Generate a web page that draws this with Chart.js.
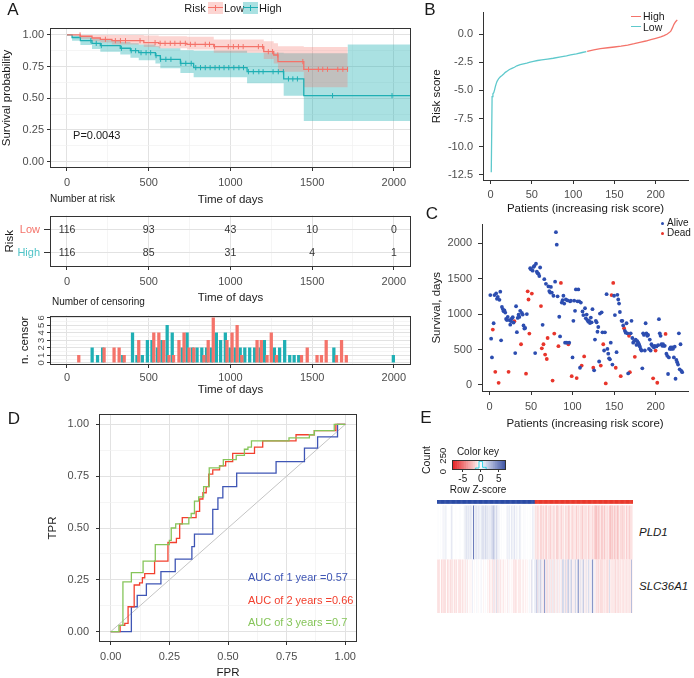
<!DOCTYPE html>
<html>
<head>
<meta charset="utf-8">
<title>Risk model figure</title>
<script src="https://cdn.jsdelivr.net/npm/chart.js@4.4.1/dist/chart.umd.min.js"></script>
<style>
html, body { margin: 0; padding: 0; background: #fff; overflow: hidden; }
#fig { position: relative; width: 694px; height: 678px; font-family: "Liberation Sans", Arial, Helvetica, sans-serif; color: #1a1a1a; }
#fig canvas { position: absolute; }
.t { position: absolute; white-space: nowrap; line-height: 1; }
.c { transform: translate(-50%, -50%); }
.l { transform: translateY(-50%); }
.r90 { transform: translate(-50%, -50%) rotate(-90deg); }
.tag { font-size: 17px; }
.box { position: absolute; }
</style>
</head>
<body>
<div id="fig">
  <canvas id="km" width="420" height="210" style="left:0px;top:0px"></canvas>
  <canvas id="risk" width="420" height="100" style="left:0px;top:205px"></canvas>
  <canvas id="cens" width="420" height="95" style="left:0px;top:305px"></canvas>
  <canvas id="score" width="314" height="218" style="left:380px;top:0px"></canvas>
  <canvas id="surv" width="314" height="222" style="left:380px;top:212px"></canvas>
  <canvas id="roc" width="370" height="282" style="left:0px;top:400px"></canvas>
  <canvas id="ckey" width="80" height="30" style="left:440px;top:455px"></canvas>
  <canvas id="heat" width="196" height="113" style="left:437px;top:500px"></canvas>

  <div class="t c tag" style="left:13px;top:9px">A</div>
  <div class="t c tag" style="left:430px;top:9px">B</div>
  <div class="t c tag" style="left:432px;top:213px">C</div>
  <div class="t c tag" style="left:14px;top:418px">D</div>
  <div class="t c tag" style="left:426px;top:417px">E</div>

  <!-- panel A legend -->
  <div class="t c" style="left:195px;top:8px;font-size:11px">Risk</div>
  <div class="box" style="left:208px;top:2px;width:15px;height:12px;background:rgba(244,115,106,0.3)">
    <div class="box" style="left:0px;top:5px;width:15px;height:1.4px;background:#F4736A"></div>
    <div class="box" style="left:7px;top:3px;width:1px;height:6px;background:#F4736A"></div>
  </div>
  <div class="t l" style="left:224px;top:8px;font-size:11px">Low</div>
  <div class="box" style="left:243px;top:2px;width:15px;height:12px;background:rgba(31,175,180,0.38)">
    <div class="box" style="left:0px;top:5px;width:15px;height:1.4px;background:#1FAFB4"></div>
    <div class="box" style="left:7px;top:3px;width:1px;height:6px;background:#1FAFB4"></div>
  </div>
  <div class="t l" style="left:259px;top:8px;font-size:11px">High</div>
  <div class="t l" style="left:50px;top:199px;font-size:10px">Number at risk</div>
  <div class="t l" style="left:52px;top:302px;font-size:10px">Number of censoring</div>

  <!-- panel B legend -->
  <div class="box" style="left:631px;top:15.5px;width:10px;height:1.3px;background:#F4736A"></div>
  <div class="t l" style="left:643px;top:16px;font-size:10.5px">High</div>
  <div class="box" style="left:631px;top:26px;width:10px;height:1.3px;background:#5FC9CC"></div>
  <div class="t l" style="left:643px;top:26.5px;font-size:10.5px">Low</div>

  <!-- panel C legend -->
  <div class="box" style="left:660.5px;top:221.5px;width:3px;height:3px;border-radius:50%;background:#2C4DB0"></div>
  <div class="t l" style="left:667px;top:223px;font-size:10px">Alive</div>
  <div class="box" style="left:660.5px;top:231.5px;width:3px;height:3px;border-radius:50%;background:#E8352B"></div>
  <div class="t l" style="left:667px;top:233px;font-size:10px">Dead</div>

  <!-- panel E texts -->
  <div class="t c" style="left:478px;top:452px;font-size:10px">Color key</div>
  <div class="t c" style="left:478px;top:490px;font-size:10px">Row Z-score</div>
  <div class="t r90" style="left:426px;top:460px;font-size:10.5px">Count</div>
  <div class="t r90" style="left:443px;top:461px;font-size:9.5px">0&nbsp;&nbsp;250</div>
  <div class="t l" style="left:639px;top:533px;font-size:11.5px;font-style:italic">PLD1</div>
  <div class="t l" style="left:639px;top:587px;font-size:11.5px;font-style:italic">SLC36A1</div>
</div>

<script>
// ---------------- values ----------------
const groups = ['Low', 'High'];

// A: Kaplan-Meier steps (days, survival) and 95% bands
const kmLowTime  = [0, 82, 153, 204, 275, 470, 561, 734, 898, 1204, 1265, 1291, 1449, 1718];
const kmLowSurv  = [1, 0.99, 0.976, 0.966, 0.955, 0.94, 0.934, 0.926, 0.908, 0.868, 0.842, 0.79, 0.729, 0.729];
const kmLowUpper = [1, 1, 1, 1, 1, 0.995, 0.99, 0.985, 0.965, 0.95, 0.935, 0.91, 0.905, 0.905];
const kmLowLower = [1, 0.97, 0.95, 0.94, 0.925, 0.905, 0.895, 0.885, 0.86, 0.81, 0.775, 0.71, 0.588, 0.588];

const kmHighTime  = [0, 31, 82, 153, 204, 326, 388, 439, 541, 571, 694, 775, 1102, 1326, 1449, 1718, 2105];
const kmHighSurv  = [1, 0.98, 0.955, 0.934, 0.916, 0.895, 0.876, 0.86, 0.837, 0.808, 0.776, 0.742, 0.71, 0.653, 0.521, 0.521, 0.521];
const kmHighUpper = [1, 0.995, 0.985, 0.97, 0.96, 0.945, 0.935, 0.925, 0.91, 0.895, 0.88, 0.875, 0.86, 0.855, 0.855, 0.925, 0.925];
const kmHighLower = [1, 0.955, 0.92, 0.89, 0.868, 0.845, 0.82, 0.8, 0.775, 0.737, 0.7, 0.666, 0.618, 0.52, 0.32, 0.32, 0.32];

const pValueText = 'P=0.0043';

// number at risk table
const riskTimes = [0, 500, 1000, 1500, 2000];
const riskLow   = [116, 93, 43, 10, 0];
const riskHigh  = [116, 85, 31, 4, 1];

// censoring counts
const censLowTime   = [80, 235, 296, 327, 358, 447, 539, 570, 600, 632, 660, 693, 724, 755, 784, 846, 872, 903, 987, 1018,
                       1049, 1078, 1171, 1197, 1232, 1258, 1290, 1443, 1478, 1538, 1565, 1594, 1657, 1688, 1717];
const censLowCount  = [1, 2, 2, 2, 1, 3, 4, 4, 3, 1, 1, 3, 4, 2, 2, 1, 3, 6, 3, 4,
                       5, 1, 3, 3, 1, 4, 1, 1, 2, 1, 1, 3, 1, 3, 1];
const censHighTime  = [146, 179, 210, 333, 393, 420, 453, 484, 512, 545, 573, 605, 636, 697, 727, 760, 788, 817, 846, 876,
                       906, 932, 961, 990, 1021, 1052, 1080, 1110, 1140, 1174, 1200, 1261, 1293, 1324, 1355, 1382, 1410, 1625, 1989];
const censHighCount = [2, 1, 2, 1, 4, 1, 1, 3, 3, 2, 3, 5, 4, 2, 4, 2, 2, 2, 2, 2,
                       4, 3, 4, 2, 2, 2, 2, 2, 2, 2, 3, 2, 2, 3, 1, 1, 1, 2, 1];

// B: sorted risk score
const scoreLowIdx  = [1, 2, 3, 4, 5, 6, 7, 8, 10, 12, 14, 16, 18, 20, 23, 26, 29, 32, 36, 40, 44, 48, 52, 57, 62, 69, 76, 85, 92, 97, 104, 111, 116];
const scoreLow     = [-12.27, -5.55, -5.3, -5.2, -4.95, -4.65, -4.4, -4.2, -3.95, -3.8, -3.68, -3.55, -3.4, -3.3, -3.15, -3.05, -2.95,
                      -2.82, -2.72, -2.65, -2.58, -2.5, -2.43, -2.35, -2.3, -2.22, -2.15, -2.03, -1.94, -1.86, -1.76, -1.64, -1.56];
const scoreHighIdx = [117, 125, 133, 142, 150, 158, 166, 174, 182, 188, 194, 200, 206, 210, 214, 218, 220, 222, 224, 226];
const scoreHigh    = [-1.53, -1.4, -1.29, -1.22, -1.15, -1.08, -0.98, -0.86, -0.72, -0.62, -0.5, -0.38, -0.26, -0.14, 0, 0.23, 0.52, 0.86, 1.09, 1.26];

// C: survival days per patient (ordered by risk score) and status (1 = dead)
const survDays = [
  1267, 653, 389, 781, 870, 1267, 185, 1290, 1215, 1240,
  30, 1200, 1316, 630, 1100, 1070, 1040, 1050, 1020, 930,
  915, 960, 185, 915, 850, 900, 940, 955, 880, 900,
  450, 1110, 745, 945, 990, 960, 1046, 574, 1015, 993,
  839, 795, 803, 159, 1000, 1320, 1205, 724, 1647, 1629,
  1289, 1611, 1664, 1678, 450, 1709, 1598, 1576, 1567, 1536,
  1656, 1113, 517, 848, 574, 1492, 428, 1426, 366, 662,
  1390, 1324, 1302, 1382, 1302, 62, 1258, 724, 1457, 2154,
  1978, 1250, 547, 962, 684, 1439, 1161, 1196, 1258, 1148,
  596, 1205, 596, 1192, 574, 596, 1179, 1188, 124, 389,
  905, 1188, 1046, 1347, 97, 1179, 1347, 1179, 243, 1161,
  274, 1037, 985, 402, 1082, 940, 993, 914, 892, 905,
  874, 950, 883, 1068, 243, 207, 640, 905, 883, 750,
  817, 331, 1007, 274, 1024, 742, 574, 486, 742, 22,
  1280, 508, 441, 375, 362, 596, 1267, 287, 1439, 1258,
  985, 243, 463, 1271, 1205, 1148, 1029, 124, 905, 905,
  839, 800, 764, 737, 870, 728, 163, 693, 181, 728,
  905, 662, 596, 618, 397, 640, 565, 618, 596, 574,
  543, 508, 486, 234, 728, 706, 486, 870, 728, 693,
  706, 508, 640, 486, 574, 552, 93, 530, 552, 485,
  543, 31, 561, 927, 728, 693, 574, 552, 574, 552,
  552, 720, 441, 411, 155, 389, 508, 530, 508, 530,
  510, 389, 540, 88, 353, 322, 287, 728, 221, 574,
  199, 180
];
const vitalStatus = [
  0, 0, 0, 1, 0, 0, 1, 0, 0, 0,
  1, 0, 0, 0, 0, 0, 0, 0, 0, 0,
  0, 0, 1, 0, 0, 0, 0, 0, 0, 1,
  0, 0, 0, 0, 0, 0, 0, 1, 0, 0,
  0, 0, 0, 1, 0, 1, 1, 1, 0, 0,
  1, 0, 0, 0, 0, 0, 0, 0, 0, 0,
  0, 1, 1, 0, 1, 0, 1, 0, 1, 1,
  0, 0, 0, 0, 0, 1, 0, 1, 0, 0,
  0, 0, 1, 0, 0, 1, 0, 0, 0, 0,
  0, 0, 0, 0, 1, 0, 0, 0, 1, 0,
  0, 0, 0, 0, 1, 0, 0, 0, 0, 0,
  1, 0, 0, 1, 0, 0, 0, 0, 0, 0,
  0, 0, 0, 0, 1, 0, 0, 0, 0, 0,
  0, 0, 0, 1, 0, 0, 1, 0, 0, 1,
  0, 0, 0, 0, 0, 0, 1, 0, 1, 0,
  0, 1, 0, 0, 0, 0, 0, 1, 0, 0,
  0, 1, 0, 0, 0, 0, 0, 1, 1, 0,
  0, 0, 0, 0, 1, 0, 0, 0, 0, 0,
  0, 0, 0, 0, 0, 0, 0, 0, 0, 0,
  0, 0, 0, 0, 0, 0, 1, 0, 0, 1,
  0, 1, 0, 0, 0, 0, 0, 0, 0, 0,
  0, 1, 0, 0, 0, 0, 0, 0, 0, 0,
  0, 0, 0, 0, 0, 0, 0, 0, 0, 0,
  0, 0
];

// D: ROC curves (FPR, TPR corners)
const roc1Fpr = [0, 0.088, 0.113, 0.152, 0.214, 0.275, 0.346, 0.357, 0.435, 0.457, 0.478, 0.537, 0.705, 0.826, 0.882, 0.967, 1];
const roc1Tpr = [0, 0.12, 0.175, 0.23, 0.29, 0.35, 0.41, 0.47, 0.59, 0.645, 0.7, 0.765, 0.82, 0.885, 0.94, 1, 1];
const roc2Fpr = [0, 0.04, 0.06, 0.074, 0.1, 0.123, 0.135, 0.145, 0.187, 0.244, 0.28, 0.294, 0.305, 0.364, 0.379, 0.393, 0.407, 0.418,
                 0.435, 0.464, 0.49, 0.52, 0.613, 0.648, 0.79, 0.868, 0.96, 1];
const roc2Tpr = [0, 0.03, 0.04, 0.12, 0.225, 0.235, 0.26, 0.28, 0.34, 0.43, 0.45, 0.52, 0.55, 0.58, 0.64, 0.67, 0.7, 0.76,
                 0.78, 0.8, 0.82, 0.86, 0.89, 0.92, 0.95, 0.97, 1, 1];
const roc3Fpr = [0, 0.035, 0.052, 0.088, 0.138, 0.19, 0.25, 0.258, 0.277, 0.333, 0.343, 0.357, 0.375, 0.396, 0.42, 0.464, 0.48,
                 0.535, 0.57, 0.585, 0.6, 0.76, 0.847, 0.868, 0.953, 1];
const roc3Tpr = [0, 0.03, 0.24, 0.285, 0.34, 0.42, 0.44, 0.5, 0.52, 0.55, 0.57, 0.63, 0.65, 0.7, 0.79, 0.8, 0.83,
                 0.85, 0.88, 0.89, 0.92, 0.935, 0.95, 0.97, 1, 1];
const aucText = ['AUC of 1 year =0.57', 'AUC of 2 years =0.66', 'AUC of 3 years =0.7'];

// E: heatmap row z-scores (232 samples, low-risk first)
const pld1Z = [
  0, 0.2, 0, 0, 0.1, 0, 0, 0.8, 0, 0.5,
  0.6, 0.4, 0, 0, 0, 0, 0.2, 1.0, 0.5, 0,
  0, 0, 0.1, 0, 0, 0, 0, 0.2, 0, 0,
  0, 0.1, 0.3, 1.0, 0.5, 1.3, 0.6, 1.0, 0.3, 1.3,
  0.6, 0.8, 0.2, 6.0, 0.5, 1.0, 0.6, 1.3, 0.3, 1.0,
  0.6, 0.5, 0.2, 1.6, 1.0, 1.3, 0.6, 1.6, 1.0, 0.6,
  1.3, 0.5, 0.8, 0.6, 1.3, 1.0, 2.0, 2.4, 1.3, 0.6,
  1.6, 1.0, 0.3, 0.6, 0.3, 0, 0.2, 0, 0, 0.1,
  0, 0, 0.3, 0.8, 0, 1.0, 0.5, 0, 1.0, 0.6,
  0, 1.3, 0.8, 0, 0.6, 0.3, 0, 0.5, 1.0, 0.3,
  0, 0, 0.2, 0, 0.3, 0, 0, 0.1, 0, 0,
  0.2, 0, 0, 0.8, 0.5, 0.3,
  -0.8, -1.2, -0.5, -1.5, -1.0, -0.3, -1.2, -2.0, -0.8, -1.0,
  -1.5, -0.6, -1.0, -2.2, -0.8, -0.4, -1.3, -1.0, -1.8, -0.7,
  -1.1, -0.5, -1.6, -1.0, -0.3, -1.4, -2.0, -0.9, -1.2, -0.6,
  -1.0, -1.8, -0.5, -1.2, -0.8, -0.2, -1.5, -1.0, -0.7, -1.3,
  -2.1, -0.9, -0.4, -1.1, -1.6, -0.8, -1.2, -0.5, -1.0, -1.9,
  -0.7, -1.3, -0.9, -0.3, -1.5, -1.1, -2.0, -0.8, -1.2, -0.6,
  -1.4, -1.0, -0.5, -1.7, -0.9, -1.2, -0.4, -1.0, -1.5, -0.8,
  -1.3, -2.2, -1.8, -2.5, -1.0, -2.0, -1.6, -0.6, -1.2, -2.3,
  -1.5, -0.9, -2.0, -1.1, -0.5, -1.4, -1.0, -0.7, -1.8, -2.4,
  -1.2, -2.0, -1.6, -0.8, -2.2, -1.3, -0.9, -1.7, -2.5, -1.1,
  -0.6, -1.4, -1.0, -2.0, -0.8, -1.5, -1.2, -0.5, -1.8, -1.0,
  -0.7, -1.3, -2.0, -0.9, -1.1, -0.6
];
const slcZ = [
  -1.2, -0.5, -1.5, -0.8, 0, -1.3, -1.0, -0.4, -1.6, -0.9,
  -1.2, 0, -1.4, -0.7, -1.0, -0.3, -1.5, -0.8, -1.1, 0,
  -0.9, -1.3, -0.5, -1.2, 0, -1.0, -0.6, -1.4, -0.8, -0.3,
  -1.1, -0.7, 0, -1.2, -0.5, 0.3, -0.9, 0, -0.4, 0,
  -0.6, 0, 0.8, 0, -0.3, 0, 0, 0.5, 0, -0.2,
  0, 0, 0.6, 0, 0, -0.5, 0, 0.3, 0, 0,
  -0.8, 0, -1.0, -0.5, 0, -1.2, -0.7, 0.9, -1.0, -0.4,
  1.5, -0.8, -1.1, 0.6, -0.5, -1.0, -0.3, 0, -0.9, -0.6,
  0, -0.4, 0, -0.8, 0.4, 0, -0.5, 0, -0.3, 0,
  -0.8, -1.0, -0.5, -1.2, -0.7, 0, -0.9, -0.4, -1.1, -0.6,
  0, -0.5, -0.8, 0, -0.3, -0.7, 0, -0.4, 0, 0.5,
  0, -0.3, 1.5, 0.4, 0, 0.6,
  0.8, 0.5, 3.0, -0.8, 1.0, 0.4, 2.5, -0.6, 1.2, 0.3,
  -1.0, 4.5, 0.8, -0.9, -1.2, 1.0, -0.5, -1.0, 0.6, -1.3,
  -0.4, 1.2, -0.8, -1.1, 0.5, -0.6, -1.0, 0.8, -0.3, -0.9,
  0.4, -0.7, 1.0, 2.5, 0.5, -0.8, 1.5, -1.0, 0.6, 3.0,
  0.8, -0.5, 1.2, 2.0, -0.6, 0.4, -0.9, 0.6, 2.0, -0.4,
  1.0, 5.0, 0.5, -0.7, 1.2, -0.5, 0.8, 2.5, -0.6, 0.4,
  -1.0, 0.9, -0.5, 1.5, 0.6, -0.8, 0.4, 1.0, 5.0, 0.7,
  -0.6, 0.3, -1.0, -1.2, -0.8, -1.4, -0.5, -1.1, -1.5, -0.9,
  -1.3, -0.6, -1.0, -0.4, -1.2, -0.8, -1.5, -0.7, 1.5, -0.5,
  -1.0, -0.4, -1.2, -0.6, -0.9, -1.4, -0.5, -1.0, -0.8, -1.3,
  -0.6, -1.1, -0.4, -0.9, -0.7, -1.2, -0.5, -0.8, -1.0, -0.6,
  -0.9, -0.5, -1.1, -0.7, 3.0, -0.4
];
// colour key bins and its histogram trace
const keyBins = [-7.75, -7.25, -6.75, -6.25, -5.75, -5.25, -4.75, -4.25, -3.75, -3.25, -2.75, -2.25, -1.75, -1.25, -0.75,
                 -0.25, 0.25, 0.75, 1.25, 1.75, 2.25, 2.75, 3.25, 3.75, 4.25, 4.75, 5.25, 5.75, 6.25, 6.75];
const keyHistX = [-8, -2, -1, 0, 1, 2, 7];
const keyHistCount = [0, 5, 60, 260, 80, 5, 0];

// tick positions
const dayTicks     = [0, 250, 500, 750, 1000, 1250, 1500, 1750, 2000];
const probTicks    = [0, 0.125, 0.25, 0.375, 0.5, 0.625, 0.75, 0.875, 1];
const rowTicks     = [1, 2];
const censorTicks  = [0, 0.5, 1, 1.5, 2, 2.5, 3, 3.5, 4, 4.5, 5, 5.5, 6];
const patientTicks = [0, 50, 100, 150, 200];
const scoreTicks   = [-12.5, -10, -7.5, -5, -2.5, 0];
const survDayTicks = [0, 500, 1000, 1500, 2000];
const keyTicks     = [-5, 0, 5];

// ---------------- styling ----------------
const LOW_COL = '#F4736A';
const HIGH_COL = '#1FAFB4';
const LOW_FILL = 'rgba(244,115,106,0.30)';
const HIGH_FILL = 'rgba(31,175,180,0.38)';
const ROC_COLS = ['#3F56B5', '#F2402E', '#86C55A'];
const FONT = '"Liberation Sans", Arial, sans-serif';

Chart.defaults.animation = false;
Chart.defaults.devicePixelRatio = 1;
Chart.defaults.font.family = FONT;
Chart.defaults.font.size = 11;
Chart.defaults.color = '#4d4d4d';
Chart.defaults.events = [];
Chart.defaults.plugins.legend.display = false;
Chart.defaults.plugins.tooltip.enabled = false;

const pts = (xs, ys) => xs.map((x, i) => ({ x: x, y: ys[i] }));
const onEvery = (v, step) => Math.abs(v / step - Math.round(v / step)) < 1e-6;
const useTicks = list => s => { s.ticks = list.map(v => ({ value: v })); };

function survAt(times, surv, t) {
  let s = surv[0];
  for (let i = 0; i < times.length; i++) {
    if (times[i] <= t) s = surv[i];
  }
  return s;
}

function zColor(v) {
  const t = Math.min(Math.abs(v) / 8, 1);
  const end = v < 0 ? [228, 26, 28] : [30, 55, 150];
  const c = end.map(e => Math.round(255 + (e - 255) * t));
  return 'rgb(' + c.join(',') + ')';
}

// black frame around the plotting panel (ggplot theme_bw look)
Chart.register({
  id: 'panelBox',
  afterDraw(chart, args, opts) {
    if (!opts || !opts.color) return;
    const a = chart.chartArea;
    const ctx = chart.ctx;
    ctx.save();
    ctx.strokeStyle = opts.color;
    ctx.lineWidth = 1;
    ctx.strokeRect(Math.round(a.left) + 0.5, Math.round(a.top) + 0.5,
                   Math.round(a.right - a.left) - 1, Math.round(a.bottom - a.top) - 1);
    ctx.restore();
  }
});

// axis with grey major + minor grid, tick marks only on majors
function bwAxis(o) {
  const major = c => c.tick && onEvery(c.tick.value, o.major);
  return {
    type: 'linear', min: o.min, max: o.max, reverse: !!o.reverse, offset: false,
    afterBuildTicks: useTicks(o.ticks),
    afterFit: s => { if (s.isHorizontal()) s.height = o.size; else s.width = o.size; },
    border: { display: false },
    grid: {
      offset: false,
      color: c => major(c) ? '#e2e2e2' : '#f1f1f1',
      lineWidth: c => major(c) ? 1 : 0.7,
      tickColor: c => major(c) ? '#333' : 'rgba(0,0,0,0)',
      tickLength: o.tickLength || 3
    },
    ticks: {
      autoSkip: false, maxRotation: 0, minRotation: 0,
      padding: o.pad, color: o.tickColor || '#4d4d4d', font: { size: o.fontSize || 11 },
      callback: o.label || (v => onEvery(v, o.major) ? String(v) : '')
    },
    title: { display: true, text: o.title, color: '#1a1a1a', font: { size: 11.5 }, padding: o.titlePad }
  };
}

// axis with only an axis line and outside ticks (theme_classic look)
function classicAxis(o) {
  return {
    type: 'linear', min: o.min, max: o.max, offset: false,
    afterBuildTicks: useTicks(o.ticks),
    afterFit: s => { if (s.isHorizontal()) s.height = o.size; else s.width = o.size; },
    border: { display: true, color: '#333', width: 1 },
    grid: { display: true, offset: false, drawOnChartArea: false, drawTicks: true, tickLength: 4, tickColor: '#333' },
    ticks: {
      autoSkip: false, maxRotation: 0, minRotation: 0,
      padding: o.pad, color: '#4d4d4d', font: { size: 11 },
      callback: o.label || (v => String(v))
    },
    title: { display: true, text: o.title, color: '#1a1a1a', font: { size: 11.5 }, padding: o.titlePad }
  };
}

const dayAxis = (size, pad, titleBottom) => bwAxis({
  min: -104, max: 2105, ticks: dayTicks, major: 500, size: size, pad: pad,
  title: 'Time of days', titlePad: { top: 0, bottom: titleBottom }
});

// ---------------- A: survival curves ----------------
const pLabel = {
  id: 'pLabel',
  afterDatasetsDraw(chart) {
    const { ctx, scales: { x, y } } = chart;
    ctx.save();
    ctx.font = '11px ' + FONT;
    ctx.fillStyle = '#1a1a1a';
    ctx.textBaseline = 'middle';
    ctx.fillText(pValueText, x.getPixelForValue(37), y.getPixelForValue(0.2));
    ctx.restore();
  }
};

function censorMarks(times, kmTime, kmSurv, color) {
  return {
    type: 'scatter', order: 0,
    data: times.map(t => ({ x: t, y: survAt(kmTime, kmSurv, t) })),
    pointStyle: 'line', pointRotation: 90, pointRadius: 2.6,
    pointBorderColor: color, pointBorderWidth: 1, pointBackgroundColor: color, showLine: false
  };
}

new Chart(document.getElementById('km'), {
  type: 'line',
  data: {
    datasets: [
      { label: 'Low', data: pts(kmLowTime, kmLowSurv), stepped: true, borderColor: LOW_COL, borderWidth: 1.3, pointRadius: 0, order: 1 },
      { label: 'High', data: pts(kmHighTime, kmHighSurv), stepped: true, borderColor: HIGH_COL, borderWidth: 1.3, pointRadius: 0, order: 1 },
      { data: pts(kmLowTime, kmLowUpper), stepped: true, borderWidth: 0, pointRadius: 0, fill: false, order: 5 },
      { data: pts(kmLowTime, kmLowLower), stepped: true, borderWidth: 0, pointRadius: 0, fill: '-1', backgroundColor: LOW_FILL, order: 5 },
      { data: pts(kmHighTime, kmHighUpper), stepped: true, borderWidth: 0, pointRadius: 0, fill: false, order: 6 },
      { data: pts(kmHighTime, kmHighLower), stepped: true, borderWidth: 0, pointRadius: 0, fill: '-1', backgroundColor: HIGH_FILL, order: 6 },
      censorMarks(censLowTime, kmLowTime, kmLowSurv, LOW_COL),
      censorMarks(censHighTime, kmHighTime, kmHighSurv, HIGH_COL)
    ]
  },
  options: {
    responsive: false,
    layout: { padding: { top: 28, right: 9, left: 0, bottom: 0 } },
    scales: {
      x: dayAxis(42, 5, 3),
      y: bwAxis({ min: -0.05, max: 1.055, ticks: probTicks, major: 0.25, size: 50, pad: 3,
                  title: 'Survival probability', titlePad: { top: 0, bottom: 0 },
                  label: v => onEvery(v, 0.25) ? v.toFixed(2) : '' })
    },
    plugins: { panelBox: { color: '#333' } }
  },
  plugins: [pLabel]
});

// ---------------- A: number at risk ----------------
const riskNumbers = {
  id: 'riskNumbers',
  afterDatasetsDraw(chart) {
    const ctx = chart.ctx;
    ctx.save();
    ctx.font = '10.5px ' + FONT;
    ctx.fillStyle = '#333';
    ctx.textAlign = 'center';
    ctx.textBaseline = 'middle';
    [riskLow, riskHigh].forEach((vals, di) => {
      chart.getDatasetMeta(di).data.forEach((p, i) => ctx.fillText(String(vals[i]), p.x, p.y));
    });
    ctx.restore();
  }
};

new Chart(document.getElementById('risk'), {
  type: 'scatter',
  data: {
    datasets: [
      { data: riskTimes.map(t => ({ x: t, y: 1 })), pointRadius: 0 },
      { data: riskTimes.map(t => ({ x: t, y: 2 })), pointRadius: 0 }
    ]
  },
  options: {
    responsive: false,
    layout: { padding: { top: 7, right: 9, left: 0, bottom: 0 } },
    scales: {
      x: dayAxis(38, 5, 0),
      y: bwAxis({ min: 0.4, max: 2.6, ticks: rowTicks, major: 1, reverse: true, size: 50, pad: 4, tickLength: 6,
                  title: 'Risk', titlePad: { top: 3, bottom: 0 },
                  label: v => groups[v - 1],
                  tickColor: c => (c.tick && c.tick.value === 1) ? LOW_COL : '#4FC3C7' })
    },
    plugins: { panelBox: { color: '#333' } }
  },
  plugins: [riskNumbers]
});

// ---------------- A: number of censoring ----------------
// the count labels are turned on their side, as in the original
const sideLabels = {
  id: 'sideLabels',
  afterDraw(chart) {
    const { ctx, scales: { y } } = chart;
    ctx.save();
    ctx.font = '9.5px ' + FONT;
    ctx.fillStyle = '#4d4d4d';
    ctx.textAlign = 'center';
    ctx.textBaseline = 'middle';
    censorTicks.filter(v => onEvery(v, 1)).forEach(v => {
      ctx.save();
      ctx.translate(y.right - 9, y.getPixelForValue(v));
      ctx.rotate(-Math.PI / 2);
      ctx.fillText(String(v), 0, 0);
      ctx.restore();
    });
    ctx.restore();
  }
};

new Chart(document.getElementById('cens'), {
  type: 'bar',
  data: {
    datasets: [
      { data: pts(censLowTime, censLowCount), backgroundColor: LOW_COL, barThickness: 2.6 },
      { data: pts(censHighTime, censHighCount), backgroundColor: HIGH_COL, barThickness: 2.6 }
    ]
  },
  options: {
    responsive: false,
    layout: { padding: { top: 6, right: 9, left: 0, bottom: 0 } },
    scales: {
      x: dayAxis(35, 3, 3),
      y: bwAxis({ min: -0.3, max: 6.3, ticks: censorTicks, major: 1, size: 50, pad: 4,
                  title: 'n. censor', titlePad: { top: 18, bottom: 0 }, label: () => '' })
    },
    plugins: { panelBox: { color: '#333' } }
  },
  plugins: [sideLabels]
});

// ---------------- B: risk score ----------------
new Chart(document.getElementById('score'), {
  type: 'line',
  data: {
    datasets: [
      { label: 'Low', data: pts(scoreLowIdx, scoreLow), borderColor: '#5FC9CC', borderWidth: 1.3, pointRadius: 0 },
      { label: 'High', data: pts(scoreHighIdx, scoreHigh), borderColor: LOW_COL, borderWidth: 1.3, pointRadius: 0 }
    ]
  },
  options: {
    responsive: false,
    layout: { padding: { top: 8, right: 6, left: 0, bottom: 0 } },
    scales: {
      x: classicAxis({ min: -9, max: 239, ticks: patientTicks, size: 38, pad: 4,
                       title: 'Patients (increasing risk score)', titlePad: { top: 0, bottom: 2 } }),
      y: classicAxis({ min: -12.95, max: 1.9, ticks: scoreTicks, size: 103, pad: 6,
                       title: 'Risk score', titlePad: { top: 50, bottom: 0 }, label: v => v.toFixed(1) })
    }
  }
});

// ---------------- C: survival status ----------------
const aliveData = [];
const deadData = [];
survDays.forEach((d, i) => (vitalStatus[i] ? deadData : aliveData).push({ x: i + 1, y: d }));

new Chart(document.getElementById('surv'), {
  type: 'scatter',
  data: {
    datasets: [
      { label: 'Alive', data: aliveData, pointRadius: 1.9, pointBorderWidth: 0, pointBackgroundColor: '#2C4DB0' },
      { label: 'Dead', data: deadData, pointRadius: 1.9, pointBorderWidth: 0, pointBackgroundColor: '#E8352B' }
    ]
  },
  options: {
    responsive: false,
    layout: { padding: { top: 3, right: 6, left: 0, bottom: 0 } },
    scales: {
      x: classicAxis({ min: -9, max: 239, ticks: patientTicks, size: 43, pad: 5,
                       title: 'Patients (increasing risk score)', titlePad: { top: 0, bottom: 3 } }),
      y: classicAxis({ min: -85, max: 2261, ticks: survDayTicks, size: 102, pad: 6,
                       title: 'Survival, days', titlePad: { top: 50, bottom: 0 } })
    }
  }
});

// ---------------- D: ROC ----------------
const aucNotes = {
  id: 'aucNotes',
  afterDatasetsDraw(chart) {
    const { ctx, scales: { x, y } } = chart;
    const rows = [0.26, 0.15, 0.04];
    ctx.save();
    ctx.font = '11px ' + FONT;
    ctx.textAlign = 'left';
    ctx.textBaseline = 'middle';
    aucText.forEach((txt, i) => {
      ctx.fillStyle = ROC_COLS[i];
      ctx.fillText(txt, x.getPixelForValue(0.585), y.getPixelForValue(rows[i]));
    });
    ctx.restore();
  }
};

const rocLine = (xs, ys, color) => ({ data: pts(xs, ys), stepped: true, borderColor: color, borderWidth: 1.3, pointRadius: 0 });

new Chart(document.getElementById('roc'), {
  type: 'line',
  data: {
    datasets: [
      rocLine(roc3Fpr, roc3Tpr, ROC_COLS[2]),
      rocLine(roc2Fpr, roc2Tpr, ROC_COLS[1]),
      rocLine(roc1Fpr, roc1Tpr, ROC_COLS[0]),
      { data: [{ x: 0, y: 0 }, { x: 1, y: 1 }], borderColor: '#c4c4c4', borderWidth: 1, pointRadius: 0 }
    ]
  },
  options: {
    responsive: false,
    layout: { padding: { top: 14, right: 13, left: 0, bottom: 0 } },
    scales: {
      x: bwAxis({ min: -0.05, max: 1.05, ticks: probTicks, major: 0.25, size: 40, pad: 5,
                  title: 'FPR', titlePad: { top: 0, bottom: 2 },
                  label: v => onEvery(v, 0.25) ? v.toFixed(2) : '' }),
      y: bwAxis({ min: -0.05, max: 1.05, ticks: probTicks, major: 0.25, size: 99, pad: 7,
                  title: 'TPR', titlePad: { top: 46, bottom: 0 },
                  label: v => onEvery(v, 0.25) ? v.toFixed(2) : '' })
    },
    plugins: { panelBox: { color: '#333' } }
  },
  plugins: [aucNotes]
});

// ---------------- E: colour key ----------------
new Chart(document.getElementById('ckey'), {
  type: 'bar',
  data: {
    datasets: [
      { type: 'line', data: pts(keyHistX, keyHistCount), yAxisID: 'y2', borderColor: '#2ED3E6', borderWidth: 1,
        pointRadius: 0, stepped: 'middle', order: 0 },
      { data: keyBins.map(b => ({ x: b, y: [0, 1] })), backgroundColor: keyBins.map(zColor),
        categoryPercentage: 1, barPercentage: 1, order: 1 }
    ]
  },
  options: {
    responsive: false,
    layout: { padding: { top: 5, right: 14, left: 12, bottom: 0 } },
    scales: {
      x: {
        type: 'linear', min: -8, max: 7, offset: false,
        afterBuildTicks: useTicks(keyTicks),
        afterFit: s => { s.height = 15; },
        border: { display: false },
        grid: { offset: false, drawOnChartArea: false, tickLength: 2, tickColor: '#333' },
        ticks: { autoSkip: false, maxRotation: 0, padding: 1, color: '#1a1a1a', font: { size: 10 } }
      },
      y: { display: false, min: 0, max: 1 },
      y2: { display: false, min: 0, max: 300 }
    },
    plugins: { panelBox: { color: '#333' } }
  }
});

// ---------------- E: heatmap ----------------
const hmCols = pld1Z.map((_, i) => i + 1);
const lowN = riskLow[0]; // low-risk samples come first
const cell = { grouped: false, categoryPercentage: 1, barPercentage: 1.6, borderWidth: 0 };

new Chart(document.getElementById('heat'), {
  type: 'bar',
  data: {
    labels: hmCols,
    datasets: [
      Object.assign({ data: hmCols.map(() => [2.03, 2.1]),
                      backgroundColor: hmCols.map((c, i) => i < lowN ? '#2B4BA5' : '#E8392C') }, cell),
      Object.assign({ data: hmCols.map(() => [1, 2]), backgroundColor: pld1Z.map(zColor) }, cell),
      Object.assign({ data: hmCols.map(() => [0, 1]), backgroundColor: slcZ.map(zColor) }, cell)
    ]
  },
  options: {
    responsive: false,
    layout: { padding: 0 },
    scales: {
      x: { display: false },
      y: { display: false, min: 0, max: 2.1 }
    }
  }
});
</script>
</body>
</html>
